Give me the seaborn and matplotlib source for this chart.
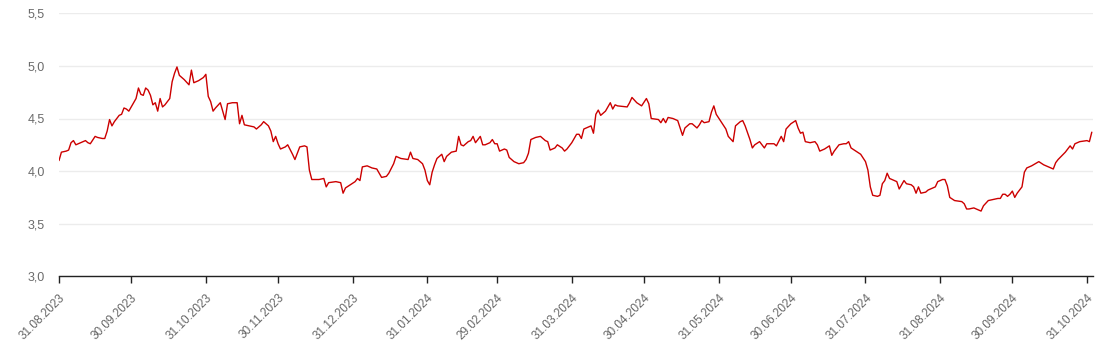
import matplotlib
matplotlib.use("Agg")
import matplotlib.pyplot as plt
from matplotlib.ticker import FixedLocator, FuncFormatter
import seaborn as sns
import pandas as pd

start_date = "2023-08-31"

# days since start date
day_offsets = [
    0, 1, 3, 4, 5, 6, 7, 9, 11, 12, 13, 15, 16, 18, 19, 20, 21, 22, 23, 25,
    26, 27, 28, 29, 30, 32, 33, 34, 35, 36, 37, 38, 39, 40, 41, 42, 43, 44, 46, 47,
    48, 49, 50, 52, 54, 55, 56, 58, 60, 61, 62, 63, 64, 65, 67, 68, 69, 70, 72, 74,
    75, 76, 77, 79, 81, 82, 84, 85, 87, 88, 89, 90, 91, 92, 94, 95, 97, 98, 100, 102,
    103, 104, 105, 108, 110, 111, 112, 115, 117, 118, 119, 121, 123, 124, 125, 126, 128, 130, 132, 134,
    136, 137, 139, 140, 142, 145, 146, 147, 149, 151, 152, 153, 154, 155, 156, 157, 159, 160, 161, 163,
    165, 166, 167, 168, 170, 171, 172, 173, 175, 176, 177, 179, 180, 181, 182, 183, 185, 186, 187, 189,
    191, 193, 194, 195, 196, 198, 200, 202, 203, 204, 206, 207, 209, 210, 211, 213, 215, 216, 217, 218,
    220, 221, 222, 223, 224, 225, 227, 229, 230, 231, 232, 236, 237, 238, 240, 242, 244, 245, 246, 249,
    250, 251, 252, 253, 255, 257, 259, 260, 262, 263, 265, 266, 267, 268, 270, 271, 272, 273, 275, 277,
    278, 280, 281, 283, 284, 285, 287, 288, 289, 291, 293, 294, 297, 298, 300, 301, 302, 304, 306, 307,
    308, 309, 310, 312, 314, 315, 316, 318, 320, 321, 322, 324, 326, 327, 328, 329, 331, 333, 335, 336,
    337, 338, 340, 341, 342, 343, 344, 345, 347, 348, 349, 351, 352, 354, 355, 356, 357, 358, 360, 361,
    364, 365, 367, 368, 369, 370, 372, 375, 376, 377, 378, 380, 382, 383, 384, 386, 388, 390, 391, 392,
    393, 394, 395, 396, 397, 398, 400, 401, 402, 404, 407, 409, 413, 414, 415, 418, 419, 420, 421, 422,
    424, 427, 428, 429,
]

values = [
    4.10, 4.18, 4.19, 4.20, 4.27, 4.29, 4.25, 4.27, 4.29, 4.27, 4.26, 4.33, 4.32, 4.31, 4.31, 4.38, 4.49, 4.43, 4.47, 4.53,
    4.54, 4.60, 4.59, 4.57, 4.61, 4.69, 4.79, 4.73, 4.72, 4.79, 4.77, 4.72, 4.63, 4.65, 4.57, 4.69, 4.61, 4.63, 4.69, 4.85,
    4.93, 4.99, 4.91, 4.87, 4.82, 4.96, 4.84, 4.86, 4.89, 4.92, 4.71, 4.66, 4.57, 4.60, 4.65, 4.57, 4.49, 4.64, 4.65, 4.65,
    4.45, 4.53, 4.44, 4.43, 4.42, 4.40, 4.44, 4.47, 4.43, 4.38, 4.28, 4.33, 4.26, 4.21, 4.23, 4.25, 4.16, 4.11, 4.23, 4.24,
    4.23, 4.01, 3.92, 3.92, 3.93, 3.85, 3.89, 3.90, 3.89, 3.79, 3.84, 3.87, 3.90, 3.93, 3.91, 4.04, 4.05, 4.03, 4.02, 3.94,
    3.95, 3.98, 4.07, 4.14, 4.12, 4.11, 4.18, 4.12, 4.11, 4.07, 4.01, 3.91, 3.87, 3.99, 4.06, 4.12, 4.16, 4.09, 4.14, 4.18,
    4.19, 4.33, 4.25, 4.24, 4.28, 4.29, 4.33, 4.27, 4.33, 4.25, 4.25, 4.27, 4.30, 4.26, 4.26, 4.19, 4.21, 4.20, 4.13, 4.09,
    4.07, 4.08, 4.11, 4.17, 4.30, 4.32, 4.33, 4.29, 4.28, 4.20, 4.22, 4.25, 4.22, 4.19, 4.21, 4.27, 4.35, 4.35, 4.31, 4.40,
    4.42, 4.43, 4.36, 4.54, 4.58, 4.53, 4.57, 4.65, 4.59, 4.63, 4.62, 4.61, 4.65, 4.70, 4.65, 4.62, 4.69, 4.64, 4.50, 4.49,
    4.46, 4.50, 4.46, 4.51, 4.50, 4.48, 4.34, 4.41, 4.45, 4.45, 4.41, 4.44, 4.48, 4.46, 4.47, 4.56, 4.62, 4.54, 4.47, 4.40,
    4.33, 4.28, 4.43, 4.47, 4.48, 4.43, 4.30, 4.22, 4.25, 4.28, 4.22, 4.26, 4.26, 4.24, 4.33, 4.28, 4.40, 4.45, 4.48, 4.41,
    4.36, 4.37, 4.28, 4.27, 4.28, 4.25, 4.19, 4.21, 4.24, 4.15, 4.19, 4.25, 4.26, 4.26, 4.28, 4.22, 4.19, 4.16, 4.09, 4.01,
    3.85, 3.77, 3.76, 3.77, 3.88, 3.91, 3.98, 3.93, 3.91, 3.90, 3.83, 3.91, 3.88, 3.87, 3.85, 3.79, 3.85, 3.79, 3.80, 3.82,
    3.85, 3.90, 3.92, 3.92, 3.86, 3.75, 3.72, 3.71, 3.69, 3.64, 3.64, 3.65, 3.63, 3.62, 3.67, 3.72, 3.73, 3.74, 3.74, 3.78,
    3.78, 3.76, 3.78, 3.81, 3.75, 3.79, 3.85, 3.99, 4.03, 4.05, 4.09, 4.06, 4.02, 4.08, 4.11, 4.18, 4.21, 4.24, 4.21, 4.26,
    4.28, 4.29, 4.28, 4.37,
]

tick_dates = [
    "2023-08-31", "2023-09-30", "2023-10-31", "2023-11-30", "2023-12-31",
    "2024-01-31", "2024-02-29", "2024-03-31", "2024-04-30", "2024-05-31",
    "2024-06-30", "2024-07-31", "2024-08-31", "2024-09-30", "2024-10-31",
]
y_ticks = [3.0, 3.5, 4.0, 4.5, 5.0, 5.5]

df = pd.DataFrame({
    "date": pd.Timestamp(start_date) + pd.to_timedelta(day_offsets, unit="D"),
    "value": values,
})

sns.set_theme(style="white")
plt.rcParams["font.family"] = ["Liberation Sans", "DejaVu Sans"]

fig = plt.figure(figsize=(11.12, 3.57), dpi=100)
ax = fig.add_axes([59 / 1112, 1 - 276.3 / 357, (1093 - 59) / 1112, (276.3 - 13.3) / 357])

sns.lineplot(data=df, x="date", y="value", ax=ax, color="#cc0000", linewidth=1.0)

ax.set_ylim(3.0, 5.5)
ax.set_xlim(pd.Timestamp(start_date), df["date"].iloc[-1] + pd.Timedelta(days=0.5))

ax.yaxis.set_major_locator(FixedLocator(y_ticks))
ax.yaxis.set_major_formatter(FuncFormatter(lambda v, p: f"{v:.1f}".replace(".", ",")))
ax.grid(axis="y", color="#ececec", linewidth=1.0)
ax.grid(axis="x", visible=False)

tick_ts = [pd.Timestamp(t) for t in tick_dates]
ax.set_xticks(tick_ts)
ax.set_xticklabels([t.strftime("%d.%m.%Y") for t in tick_ts])

for s in ["top", "right", "left"]:
    ax.spines[s].set_visible(False)
ax.spines["bottom"].set_color("#222222")
ax.spines["bottom"].set_linewidth(1.0)

ax.tick_params(axis="y", length=0, pad=10, labelsize=9, labelcolor="#6b6b6b")
ax.tick_params(axis="x", length=5, width=1, color="#222222", direction="out",
               pad=6, labelsize=8.5, labelcolor="#666666", bottom=True)
for lbl in ax.get_xticklabels():
    lbl.set_rotation(45)
    lbl.set_ha("right")
    lbl.set_va("top")
    lbl.set_rotation_mode("anchor")

ax.set_xlabel("")
ax.set_ylabel("")

fig.savefig("out.png", dpi=100)
